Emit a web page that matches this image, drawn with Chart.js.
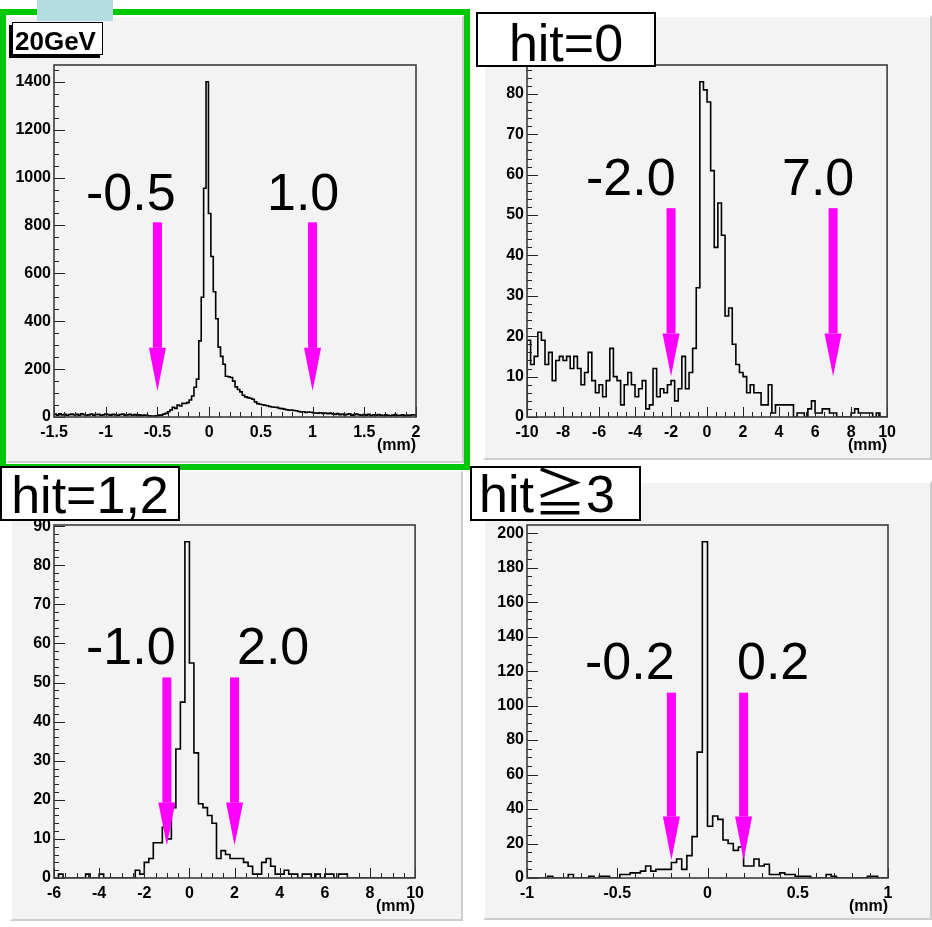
<!DOCTYPE html>
<html>
<head>
<meta charset="utf-8">
<script src="https://cdn.jsdelivr.net/npm/chart.js@4.4.0/dist/chart.umd.min.js"></script>
<style>
body { margin: 0; background: #fff; }
#page { position: relative; width: 932px; height: 927px; overflow: hidden; font-family: 'Liberation Sans', Arial, sans-serif; }
.pad { position: absolute; box-sizing: border-box; background: #f3f3f3;
       border-top: 2px solid #fff; border-left: 2px solid #fff;
       border-right: 2px solid #cdcdcd; border-bottom: 2px solid #cdcdcd; }
.big { position: absolute; font-size: 52px; line-height: 52px; white-space: nowrap; color: #000;
       font-family: 'Liberation Sans', Arial, 'Noto Sans CJK JP', sans-serif; }
.tag { position: absolute; box-sizing: border-box; background: #fff; border: 2px solid #000; }
canvas { position: absolute; }
</style>
</head>
<body>
<div id="page">
  <div class="pad" style="left:483px;top:15px;width:449px;height:445px"></div>
  <div class="pad" style="left:10px;top:470px;width:453px;height:451px"></div>
  <div class="pad" style="left:483px;top:481px;width:449px;height:439px"></div>
  <div style="position:absolute;left:0;top:9px;width:470px;height:461px;box-sizing:border-box;border:6px solid #00c800"></div>
  <div class="pad" style="left:6px;top:15px;width:458px;height:448px"></div>
  <div style="position:absolute;left:37px;top:0;width:76px;height:21px;background:#b3dde0"></div>

  <canvas id="c1" width="430" height="412" style="left:0;top:50px"></canvas>
  <canvas id="c2" width="429" height="412" style="left:473px;top:50px"></canvas>
  <canvas id="c3" width="430" height="413" style="left:0;top:510px"></canvas>
  <canvas id="c4" width="429" height="413" style="left:473px;top:510px"></canvas>

  <div style="position:absolute;left:12px;top:22px;width:91px;height:33px;box-sizing:border-box;background:#fff;border:1.5px solid #000;box-shadow:-3px 3px 0 #000"></div>
  <div style="position:absolute;left:15px;top:28px;font-size:26px;line-height:26px;font-weight:bold">20GeV</div>

  <div class="tag" style="left:476px;top:12px;width:180px;height:55px"></div>
  <div class="big" style="left:476px;top:17px;width:180px;text-align:center">hit=0</div>
  <div class="tag" style="left:0;top:466px;width:180px;height:55px"></div>
  <div class="big" style="left:0;top:469px;width:180px;text-align:center">hit=1,2</div>
  <div class="tag" style="left:470px;top:466px;width:171px;height:55px"></div>
  <div class="big" style="left:479px;top:468px">hit≧3</div>

  <div class="big" style="left:86px;top:166px">-0.5</div>
  <div class="big" style="left:267px;top:166px">1.0</div>
  <div class="big" style="left:586px;top:151px">-2.0</div>
  <div class="big" style="left:782px;top:151px">7.0</div>
  <div class="big" style="left:86px;top:620px">-1.0</div>
  <div class="big" style="left:237px;top:620px">2.0</div>
  <div class="big" style="left:585px;top:635px">-0.2</div>
  <div class="big" style="left:737px;top:635px">0.2</div>
</div>

<script>
// 20GeV, all hits: 150 bins from -1.5 to 2 mm
const range20 = [-1.5, 2];
const counts20 = [
  10,12,8,13,9,11,7,10,12,9, 11,8,13,10,7,9,12,8,10,11,
  7,9,12,10,8,11,9,7,10,12, 8,9,11,7,10,8,9,6,8,7, 5,4,
  4,5,8,8,12,15,22,29,40,36,50,46,57,57,60,71,88,124,158,318,500,955,
  1400,850,670,523,410,292,253,220,170,168,165,150,126,115,105,
  91,84,81,78,74,63,56,53,51,49,47,44,42,41,40,36,35,33,30,28,
  29,27,26,23,21,22,19,21,20,18,17,16,18,15,17,14,16,
  13,11,14,10,12,9,11,13,8,10, 12,9,7,10,8,11,6,9,7,10,
  8,6,9,7,5,8,10,6,7,9, 5,8,6,9
];
const xTicks20 = [-1.5, -1, -0.5, 0, 0.5, 1, 1.5, 2];
const yTicks20 = [0, 200, 400, 600, 800, 1000, 1200, 1400];
const cuts20 = [-0.5, 1.0];

// hit=0: 100 bins from -10 to 10 mm
const rangeHit0 = [-10, 10];
const countsHit0 = [
  17,19,13,15,21,19,13,16,9,14, 15,14,15,12,15,12,8,11,16,9,
  6,8,5,9,17,10,9,3,8,11, 8,5,7,9,2,3,12,5,7,6,
  8,9,4,7,15,7,11,17,32,
  83,81,78,61,42,53,45,25,27,18, 13,11,10,6,8,6,6,3,3,8,
  1,3,3,3,3,3,0,1,1,0, 2,4,1,1,2,2,1,1,0,0,
  0,0,1,2,1,1,1,1,0,1, 0
];
const xTicksHit0 = [-10, -8, -6, -4, -2, 0, 2, 4, 6, 8, 10];
const yTicksHit0 = [0, 10, 20, 30, 40, 50, 60, 70, 80];
const cutsHit0 = [-2.0, 7.0];

// hit=1,2: 80 bins from -6 to 10 mm
const rangeHit12 = [-6, 10];
const countsHit12 = [
  0,0,1,0,0,0,0,0,1,0, 0,1,0,0,0,0,0,0,0,
  2,1,4,5,9,9,13,10,18,33,45,86,55,32,19,18,16,14,5,7,
  6,5,5,5,4,3,1,1,4,5,3,1,1,2,1,1,0,1,1,0,1,0,1,1,0,1,1,
  0,0,0,0,0,0,0,0,0,0,0,0,0,0
];
const xTicksHit12 = [-6, -4, -2, 0, 2, 4, 6, 8, 10];
const yTicksHit12 = [0, 10, 20, 30, 40, 50, 60, 70, 80, 90];
const cutsHit12 = [-1.0, 2.0];

// hit>=3: 70 bins from -1 to 1 mm
const rangeHit3 = [-1, 1];
const countsHit3 = [
  0,0,0,0,0,1,0,0,0,2, 0,0,0,1,0,1,1,0,0,
  2,2,3,3,4,7,4,5,5,5,9,11,5,13,24,73,195,30,36,34,22,20,16,18,7,7,11,7,8,
  2,2,3,2,2,1,1,1,0,0,0,2,1,0,0,0,0,0,0,1,1,0
];
const xTicksHit3 = [-1, -0.5, 0, 0.5, 1];
const yTicksHit3 = [0, 20, 40, 60, 80, 100, 120, 140, 160, 180, 200];
const cutsHit3 = [-0.2, 0.2];

const tickFont = { family: "'Liberation Sans', Arial, sans-serif", size: 16, weight: 'bold' };

function histPoints(range, counts) {
  const w = (range[1] - range[0]) / counts.length;
  const pts = [{ x: range[0], y: 0 }];
  counts.forEach((c, i) => pts.push({ x: range[0] + i * w, y: c }));
  pts.push({ x: range[1], y: counts[counts.length - 1] });
  pts.push({ x: range[1], y: 0 });
  return pts;
}

// ROOT style frame: ticks pointing into the pad
function framePlugin(p) {
  return {
    id: 'rootFrame',
    afterDraw(chart) {
      const { ctx, chartArea: a } = chart;
      const xs = chart.scales.x, ys = chart.scales.y;
      ctx.save();
      ctx.strokeStyle = '#222';
      ctx.lineWidth = 1;
      ctx.beginPath();
      const nx = Math.round((xs.max - xs.min) / p.xMinor);
      for (let i = 0; i <= nx; i++) {
        const v = xs.min + i * p.xMinor;
        const major = p.xTicks.some(t => Math.abs(t - v) < p.xMinor / 10);
        const px = Math.round(xs.getPixelForValue(v)) + 0.5;
        ctx.moveTo(px, a.bottom);
        ctx.lineTo(px, a.bottom - (major ? 10 : 5));
      }
      const ny = Math.floor((ys.max - ys.min) / p.yMinor + 1e-6);
      for (let i = 0; i <= ny; i++) {
        const v = ys.min + i * p.yMinor;
        const major = p.yTicks.some(t => Math.abs(t - v) < p.yMinor / 10);
        const py = Math.round(ys.getPixelForValue(v)) + 0.5;
        ctx.moveTo(a.left, py);
        ctx.lineTo(a.left + (major ? 11 : 5), py);
      }
      ctx.stroke();
      ctx.lineWidth = 1.6;
      ctx.strokeStyle = '#3c3c3c';
      ctx.strokeRect(a.left, a.top, a.right - a.left, a.bottom - a.top);
      ctx.restore();
    }
  };
}

// magenta cut arrows, vertical extent given in y data units
function arrowPlugin(p) {
  return {
    id: 'cutArrows',
    afterDatasetsDraw(chart) {
      const { ctx } = chart;
      const xs = chart.scales.x, ys = chart.scales.y;
      ctx.save();
      ctx.fillStyle = '#ff00ff';
      p.cuts.forEach(c => {
        const px = xs.getPixelForValue(c);
        const yTop = ys.getPixelForValue(p.top);
        const yBase = ys.getPixelForValue(p.base);
        const yTip = ys.getPixelForValue(p.tip);
        ctx.fillRect(px - 4.5, yTop, 9, yBase - yTop);
        ctx.beginPath();
        ctx.moveTo(px - 8.5, yBase);
        ctx.lineTo(px + 8.5, yBase);
        ctx.lineTo(px, yTip);
        ctx.closePath();
        ctx.fill();
      });
      ctx.restore();
    }
  };
}

function drawHist(id, range, counts, xTicks, yTicks, cuts, xMinor, yMinor, arrowY) {
  const ymax = Math.max(...counts) * 1.05;
  new Chart(document.getElementById(id), {
    type: 'line',
    data: {
      datasets: [{
        data: histPoints(range, counts),
        stepped: 'after',
        borderColor: '#000',
        borderWidth: 1.6,
        pointRadius: 0,
        fill: false
      }]
    },
    options: {
      responsive: false,
      animation: false,
      events: [],
      layout: { padding: { left: 0, top: 15, right: 14, bottom: 0 } },
      plugins: { legend: { display: false }, tooltip: { enabled: false } },
      scales: {
        x: {
          type: 'linear', min: range[0], max: range[1],
          grid: { display: false, drawTicks: false },
          border: { display: false },
          ticks: { autoSkip: false, maxRotation: 0, padding: 6, color: '#000', font: tickFont,
                   callback: v => String(v) },
          afterBuildTicks: s => { s.ticks = xTicks.map(v => ({ value: v })); },
          afterFit: s => { s.height = 45; },
          title: { display: true, text: '(mm)', align: 'end', color: '#000', font: tickFont,
                   padding: { top: 0, bottom: 7 } }
        },
        y: {
          min: 0, max: ymax,
          grid: { display: false, drawTicks: false },
          border: { display: false },
          ticks: { autoSkip: false, padding: 3, color: '#000', font: tickFont,
                   callback: v => String(v) },
          afterBuildTicks: s => { s.ticks = yTicks.map(v => ({ value: v })); },
          afterFit: s => { s.width = 54; }
        }
      }
    },
    plugins: [
      framePlugin({ xTicks, yTicks, xMinor, yMinor }),
      arrowPlugin({ cuts, top: arrowY[0], base: arrowY[1], tip: arrowY[2] })
    ]
  });
}

drawHist('c1', range20, counts20, xTicks20, yTicks20, cuts20, 0.1, 50, [813, 289, 109]);
drawHist('c2', rangeHit0, countsHit0, xTicksHit0, yTicksHit0, cutsHit0, 0.5, 2, [51.7, 20.7, 10.1]);
drawHist('c3', rangeHit12, countsHit12, xTicksHit12, yTicksHit12, cutsHit12, 0.5, 2, [51.3, 19.3, 8.4]);
drawHist('c4', rangeHit3, countsHit3, xTicksHit3, yTicksHit3, cutsHit3, 0.1, 5, [107.5, 35.6, 10.4]);
</script>
</body>
</html>
